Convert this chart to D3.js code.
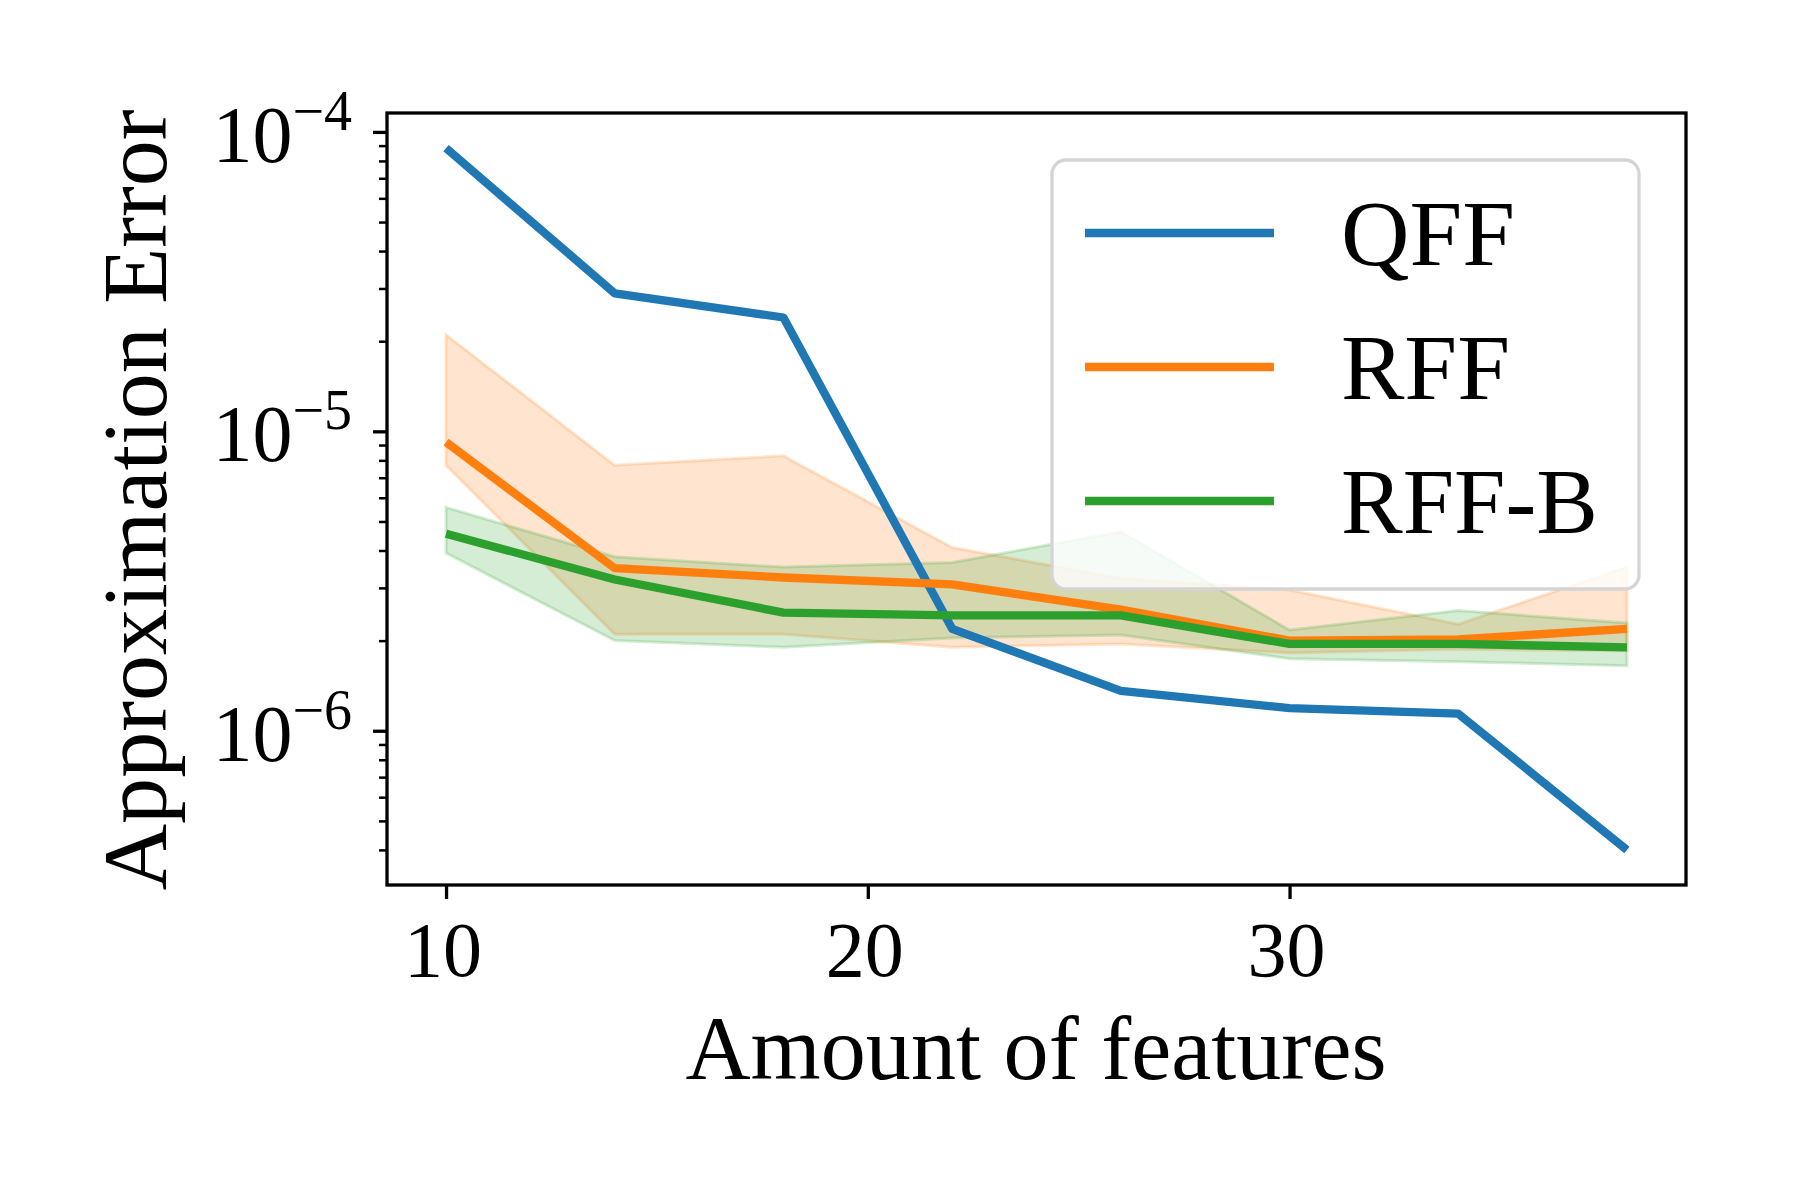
<!DOCTYPE html>
<html>
<head>
<meta charset="utf-8">
<script src="https://cdn.jsdelivr.net/npm/d3@7"></script>
<style>
  html, body { margin: 0; padding: 0; background: #fff; }
  svg { display: block; }
  text { font-family: "Liberation Serif", "DejaVu Serif", serif; fill: #000; }
</style>
</head>
<body>
<svg id="chart" width="1800" height="1200"></svg>
<script>
// ---- data ----
const features = [10, 14, 18, 22, 26, 30, 34, 38];
const qffMean = [8.83e-5, 2.89e-5, 2.40e-5, 2.19e-6, 1.36e-6, 1.19e-6, 1.14e-6, 4.0e-7];
const rffMean = [9.2e-6, 3.49e-6, 3.25e-6, 3.08e-6, 2.54e-6, 2.0e-6, 2.02e-6, 2.19e-6];
const rffUpper = [2.1e-5, 7.7e-6, 8.28e-6, 4.09e-6, 3.23e-6, 2.95e-6, 2.27e-6, 3.52e-6];
const rffLower = [7.7e-6, 2.1e-6, 2.1e-6, 1.90e-6, 1.95e-6, 1.82e-6, 1.87e-6, 1.85e-6];
const rffbMean = [4.55e-6, 3.2e-6, 2.48e-6, 2.43e-6, 2.43e-6, 1.95e-6, 1.95e-6, 1.90e-6];
const rffbUpper = [5.57e-6, 3.81e-6, 3.52e-6, 3.65e-6, 4.62e-6, 2.17e-6, 2.52e-6, 2.29e-6];
const rffbLower = [3.92e-6, 2.0e-6, 1.90e-6, 2.04e-6, 2.09e-6, 1.74e-6, 1.70e-6, 1.65e-6];
const seriesNames = ["QFF", "RFF", "RFF-B"];
const xTickValues = [10, 20, 30];
const yTickExponents = [-4, -5, -6];
const xLabel = "Amount of features";
const yLabel = "Approximation Error";

const colors = ["#1f77b4", "#ff7f0e", "#2ca02c"];

// ---- layout ----
const L = 387, R = 1686, T = 113, B = 885;
const svg = d3.select("#chart");

// matplotlib-like 5% margins
const xMin = d3.min(features), xMax = d3.max(features);
const xPad = (xMax - xMin) * 0.05;
const x = d3.scaleLinear().domain([xMin - xPad, xMax + xPad]).range([L, R]);

const allY = [].concat(qffMean, rffMean, rffUpper, rffLower, rffbMean, rffbUpper, rffbLower);
const lyMin = Math.log10(d3.min(allY)), lyMax = Math.log10(d3.max(allY));
const lyPad = (lyMax - lyMin) * 0.05;
const y = d3.scaleLog().domain([Math.pow(10, lyMin - lyPad), Math.pow(10, lyMax + lyPad)]).range([B, T]);

svg.append("defs").append("clipPath").attr("id", "clip")
  .append("rect").attr("x", L).attr("y", T).attr("width", R - L).attr("height", B - T);

const plot = svg.append("g").attr("clip-path", "url(#clip)");

const bands = [
  { upper: rffUpper, lower: rffLower, color: colors[1] },
  { upper: rffbUpper, lower: rffbLower, color: colors[2] }
];
const area = d3.area()
  .x((d, i) => x(features[i]))
  .y0(d => y(d[0]))
  .y1(d => y(d[1]));
bands.forEach(b => {
  const pts = features.map((f, i) => [b.lower[i], b.upper[i]]);
  plot.append("path")
    .attr("d", area(pts))
    .attr("fill", b.color).attr("fill-opacity", 0.2)
    .attr("stroke", b.color).attr("stroke-opacity", 0.2).attr("stroke-width", 3);
});

const line = d3.line().x((d, i) => x(features[i])).y(d => y(d));
[qffMean, rffMean, rffbMean].forEach((s, k) => {
  plot.append("path")
    .attr("d", line(s))
    .attr("fill", "none")
    .attr("stroke", colors[k])
    .attr("stroke-width", 8.3)
    .attr("stroke-linejoin", "round")
    .attr("stroke-linecap", "butt");
});

// ---- axes ----
const xAxis = d3.axisBottom(x).tickValues(xTickValues).tickSize(14).tickFormat("");
const gx = svg.append("g").attr("transform", `translate(0,${B})`).call(xAxis);
gx.select(".domain").remove();
gx.selectAll(".tick line").attr("stroke", "#000").attr("stroke-width", 3.3);
xTickValues.forEach(v => {
  svg.append("text").attr("x", x(v) - 3).attr("y", 976)
    .attr("text-anchor", "middle").attr("font-size", 78).text(String(v));
});

// y major + minor ticks
const [d0, d1] = y.domain();
const minorVals = [];
for (let e = -8; e <= -3; e++) {
  for (let m = 2; m <= 9; m++) {
    const v = m * Math.pow(10, e);
    if (v >= d0 && v <= d1) minorVals.push(v);
  }
}
const yMinor = d3.axisLeft(y).tickValues(minorVals).tickSize(8).tickFormat("");
const gym = svg.append("g").attr("transform", `translate(${L},0)`).call(yMinor);
gym.select(".domain").remove();
gym.selectAll(".tick line").attr("stroke", "#000").attr("stroke-width", 2.5);

const yMajorVals = yTickExponents.map(e => Math.pow(10, e));
const yMajor = d3.axisLeft(y).tickValues(yMajorVals).tickSize(14).tickFormat("");
const gy = svg.append("g").attr("transform", `translate(${L},0)`).call(yMajor);
gy.select(".domain").remove();
gy.selectAll(".tick line").attr("stroke", "#000").attr("stroke-width", 3.3);

yTickExponents.forEach(e => {
  const yy = y(Math.pow(10, e));
  const t = svg.append("text").attr("x", 352).attr("y", yy + 30)
    .attr("text-anchor", "end").attr("font-size", 80);
  t.append("tspan").text("10");
  t.append("tspan").attr("font-size", 56).attr("dy", -32).text("\u2212" + Math.abs(e));
});

// frame
svg.append("rect").attr("x", L).attr("y", T).attr("width", R - L).attr("height", B - T)
  .attr("fill", "none").attr("stroke", "#000").attr("stroke-width", 3.3);

// axis labels
svg.append("text").attr("x", 1036).attr("y", 1079).attr("text-anchor", "middle")
  .attr("font-size", 92).attr("textLength", 701).attr("lengthAdjust", "spacingAndGlyphs").text(xLabel);
svg.append("text").attr("transform", "translate(166,500) rotate(-90)").attr("text-anchor", "middle")
  .attr("font-size", 92).attr("textLength", 781).attr("lengthAdjust", "spacingAndGlyphs").text(yLabel);

// ---- legend ----
const lg = svg.append("g");
lg.append("rect").attr("x", 1052).attr("y", 160).attr("width", 587).attr("height", 429)
  .attr("rx", 14).attr("ry", 14)
  .attr("fill", "#fff").attr("fill-opacity", 0.8)
  .attr("stroke", "#d4d4d4").attr("stroke-width", 3.3);
const legendY = [233, 367, 501];
const legendW = [174, 169, 257];
seriesNames.forEach((n, i) => {
  lg.append("line").attr("x1", 1085).attr("x2", 1274).attr("y1", legendY[i]).attr("y2", legendY[i])
    .attr("stroke", colors[i]).attr("stroke-width", 8.3);
  lg.append("text").attr("x", 1341).attr("y", legendY[i] + 32)
    .attr("font-size", 94).attr("textLength", legendW[i]).attr("lengthAdjust", "spacingAndGlyphs").text(n);
});
</script>
</body>
</html>
